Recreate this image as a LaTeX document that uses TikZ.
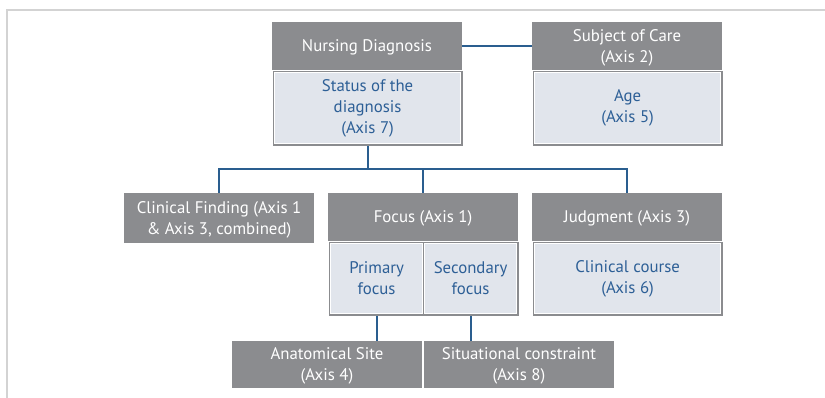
\documentclass[tikz,border=0pt]{standalone}
\usepackage{fontspec}
\setmainfont{PT Sans}
\usepackage{xcolor}
\definecolor{boxgray}{HTML}{8B8C8F}
\definecolor{cellfill}{HTML}{E1E5EC}
\definecolor{axisblue}{HTML}{2D5F96}
\definecolor{linkblue}{HTML}{2A5E8F}
\definecolor{rulegray}{HTML}{D3D3D3}

\begin{document}
\begin{tikzpicture}[x=1pt, y=-1pt,
    head/.style={anchor=north west, fill=boxgray, text=white, inner sep=0pt, outer sep=0pt,
      minimum width=190pt, align=center, text depth=0pt, font=\fontsize{16.8}{21}\selectfont},
    cell/.style={anchor=north west, fill=cellfill, draw=white, line width=1.2pt,
      preaction={draw=boxgray, line width=4pt}, text=axisblue, inner sep=0pt,
      align=center, font=\fontsize{16.8}{21}\selectfont},
    link/.style={draw=linkblue, line width=2.2pt}]
    \useasboundingbox (0,0) rectangle (825,398);
    \draw[rulegray, line width=1.5pt] (825,10) -- (7,10) -- (7,398);

    \node[head, minimum height=48pt] (nd) at (272,22) {Nursing Diagnosis};
    \node[cell, minimum width=186pt, minimum height=71pt] (status) at (274,72)
      {Status of the\\diagnosis\\(Axis 7)};
    \node[head, minimum height=48pt] (soc) at (532,22) {Subject of Care\\(Axis 2)};
    \node[cell, minimum width=186pt, minimum height=71pt] (age) at (534,72)
      {Age\\(Axis 5)};

    \node[head, minimum height=50pt] (cf) at (124,193) {Clinical Finding (Axis 1\\\& Axis 3, combined)};
    \node[head, minimum height=48pt] (focus) at (328,193) {Focus (Axis 1)};
    \node[cell, minimum width=92pt, minimum height=70pt] (prim) at (330,243)
      {Primary\\focus};
    \node[cell, minimum width=92pt, minimum height=70pt] (sec) at (424,243)
      {Secondary\\focus};
    \node[head, minimum height=48pt] (jd) at (532,193) {Judgment (Axis 3)};
    \node[cell, minimum width=186pt, minimum height=70pt] (course) at (534,243)
      {Clinical course\\(Axis 6)};

    \node[head, minimum height=47pt] (anat) at (232,341) {Anatomical Site\\(Axis 4)};
    \node[head, minimum height=47pt] (sit) at (424,341) {Situational constraint\\(Axis 8)};

    \coordinate (bar) at (0,169);
    \draw[link] (nd.east) -- (soc.west);
    \draw[link] (status.south) ++(0,2) -- (status.south |- bar);
    \draw[link] (cf.north) -- (cf.north |- bar) -| (jd.north);
    \draw[link] (focus.north |- bar) -- (focus.north);
    \draw[link] (prim.south) ++(0,2) -- (prim.south |- anat.north);
    \draw[link] (sec.south) ++(0,2) -- (sec.south |- sit.north);
\end{tikzpicture}
\end{document}
